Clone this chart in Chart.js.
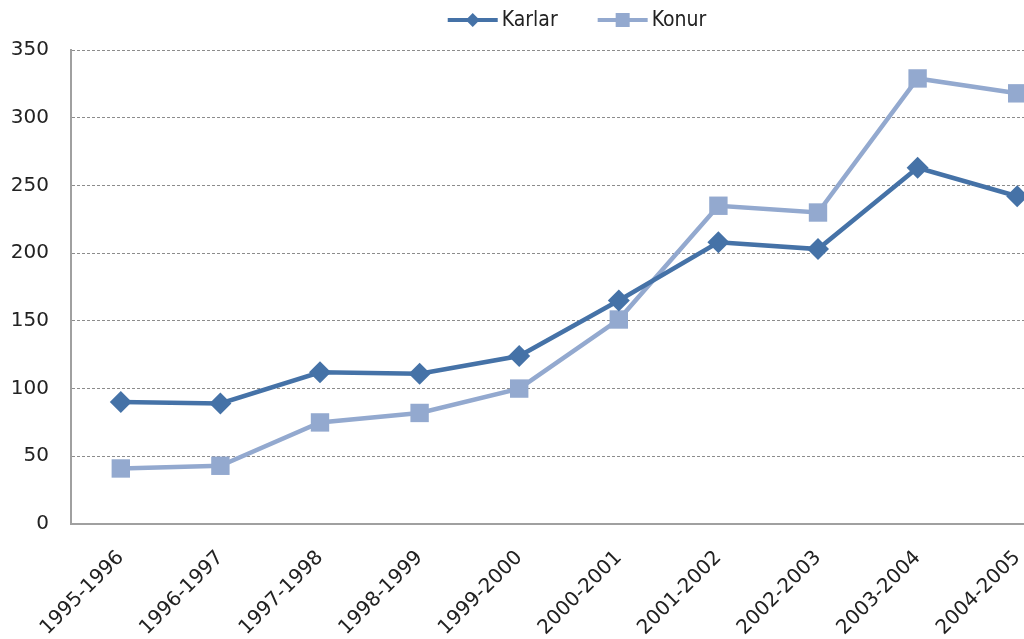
<!DOCTYPE html>
<html>
<head>
<meta charset="utf-8">
<script src="https://cdn.jsdelivr.net/npm/chart.js@4"></script>
<style>
  html, body { margin: 0; padding: 0; background: #fff; overflow: hidden; }
  #wrap { width: 1080px; height: 639px; }
</style>
</head>
<body>
<div id="wrap"><canvas id="grafico"></canvas></div>
<script>
// Datos
const categorias = ['1995-1996', '1996-1997', '1997-1998', '1998-1999', '1999-2000',
                    '2000-2001', '2001-2002', '2002-2003', '2003-2004', '2004-2005'];
const karlar = [90, 89, 112, 111, 124, 165, 208, 203, 263, 242];
const konur = [41, 43, 75, 82, 100, 151, 235, 230, 329, 318];
const ejeY = { min: 0, max: 350, paso: 50 };

const COLOR_KARLAR = '#4572A7';
const COLOR_KONUR = '#93A9CF';

// Leyenda dibujada a mano: línea con marcador + texto
const leyendaLinea = {
    id: 'leyendaLinea',
    afterDraw(chart) {
        const ctx = chart.ctx;
        const area = chart.chartArea;
        const y = 20;
        const anchoIcono = 50, separacion = 4, entreItems = 40;
        ctx.save();
        ctx.font = "21px 'Liberation Sans Narrow', 'DejaVu Sans Condensed', sans-serif";
        ctx.textBaseline = 'middle';
        const items = chart.data.datasets.map(ds => ({
            texto: ds.label,
            color: ds.borderColor,
            forma: ds.pointStyle,
            ancho: ctx.measureText(ds.label).width
        }));
        let total = items.reduce((s, it) => s + anchoIcono + separacion + it.ancho, 0) + entreItems * (items.length - 1);
        let x = (area.left + area.right) / 2 + 8 - total / 2;
        items.forEach(it => {
            ctx.strokeStyle = it.color;
            ctx.fillStyle = it.color;
            ctx.lineWidth = 4;
            ctx.beginPath(); ctx.moveTo(x, y); ctx.lineTo(x + anchoIcono, y); ctx.stroke();
            const cx = x + anchoIcono / 2;
            if (it.forma === 'rectRot') {
                ctx.beginPath();
                ctx.moveTo(cx, y - 7); ctx.lineTo(cx + 7, y); ctx.lineTo(cx, y + 7); ctx.lineTo(cx - 7, y);
                ctx.closePath(); ctx.fill();
            } else {
                ctx.fillRect(cx - 7, y - 7, 14, 14);
            }
            ctx.fillStyle = '#222';
            ctx.fillText(it.texto, x + anchoIcono + separacion, y + 1);
            x += anchoIcono + separacion + it.ancho + entreItems;
        });
        ctx.restore();
    }
};

const ctx = document.getElementById('grafico').getContext('2d');
new Chart(ctx, {
    type: 'line',
    data: {
        labels: categorias,
        datasets: [{
            label: 'Karlar',
            data: karlar,
            borderColor: COLOR_KARLAR,
            backgroundColor: COLOR_KARLAR,
            borderWidth: 4.5,
            pointStyle: 'rectRot',
            pointRadius: 11,
            pointHoverRadius: 11,
            pointBorderWidth: 0,
            tension: 0
        }, {
            label: 'Konur',
            data: konur,
            borderColor: COLOR_KONUR,
            backgroundColor: COLOR_KONUR,
            borderWidth: 4.5,
            pointStyle: 'rect',
            pointRadius: 13,
            pointHoverRadius: 13,
            pointBorderWidth: 0,
            tension: 0
        }]
    },
    options: {
        responsive: true,
        maintainAspectRatio: false,
        animation: false,
        layout: { padding: { top: 50, left: 0, right: 0, bottom: 0 } },
        plugins: {
            tooltip: { enabled: false },
            legend: { display: false }
        },
        scales: {
            x: {
                offset: true,
                grid: { display: false, drawTicks: false },
                border: { display: true, color: '#a0a0a0', width: 2 },
                ticks: {
                    color: '#222',
                    font: { family: 'DejaVu Sans', size: 20 },
                    maxRotation: 45,
                    minRotation: 45,
                    padding: 22,
                    autoSkip: false
                },
                afterFit: (eje) => { eje.height = 115; }
            },
            y: {
                min: ejeY.min,
                max: ejeY.max,
                ticks: {
                    stepSize: ejeY.paso,
                    color: '#222',
                    font: { family: 'DejaVu Sans', size: 20 },
                    padding: 22
                },
                grid: { color: '#8c8c8c', lineWidth: 1, drawTicks: false },
                border: { display: true, color: '#a0a0a0', width: 2, dash: [3, 2] },
                afterFit: (eje) => { eje.width = 71; }
            }
        }
    },
    plugins: [leyendaLinea]
});
</script>
</body>
</html>
